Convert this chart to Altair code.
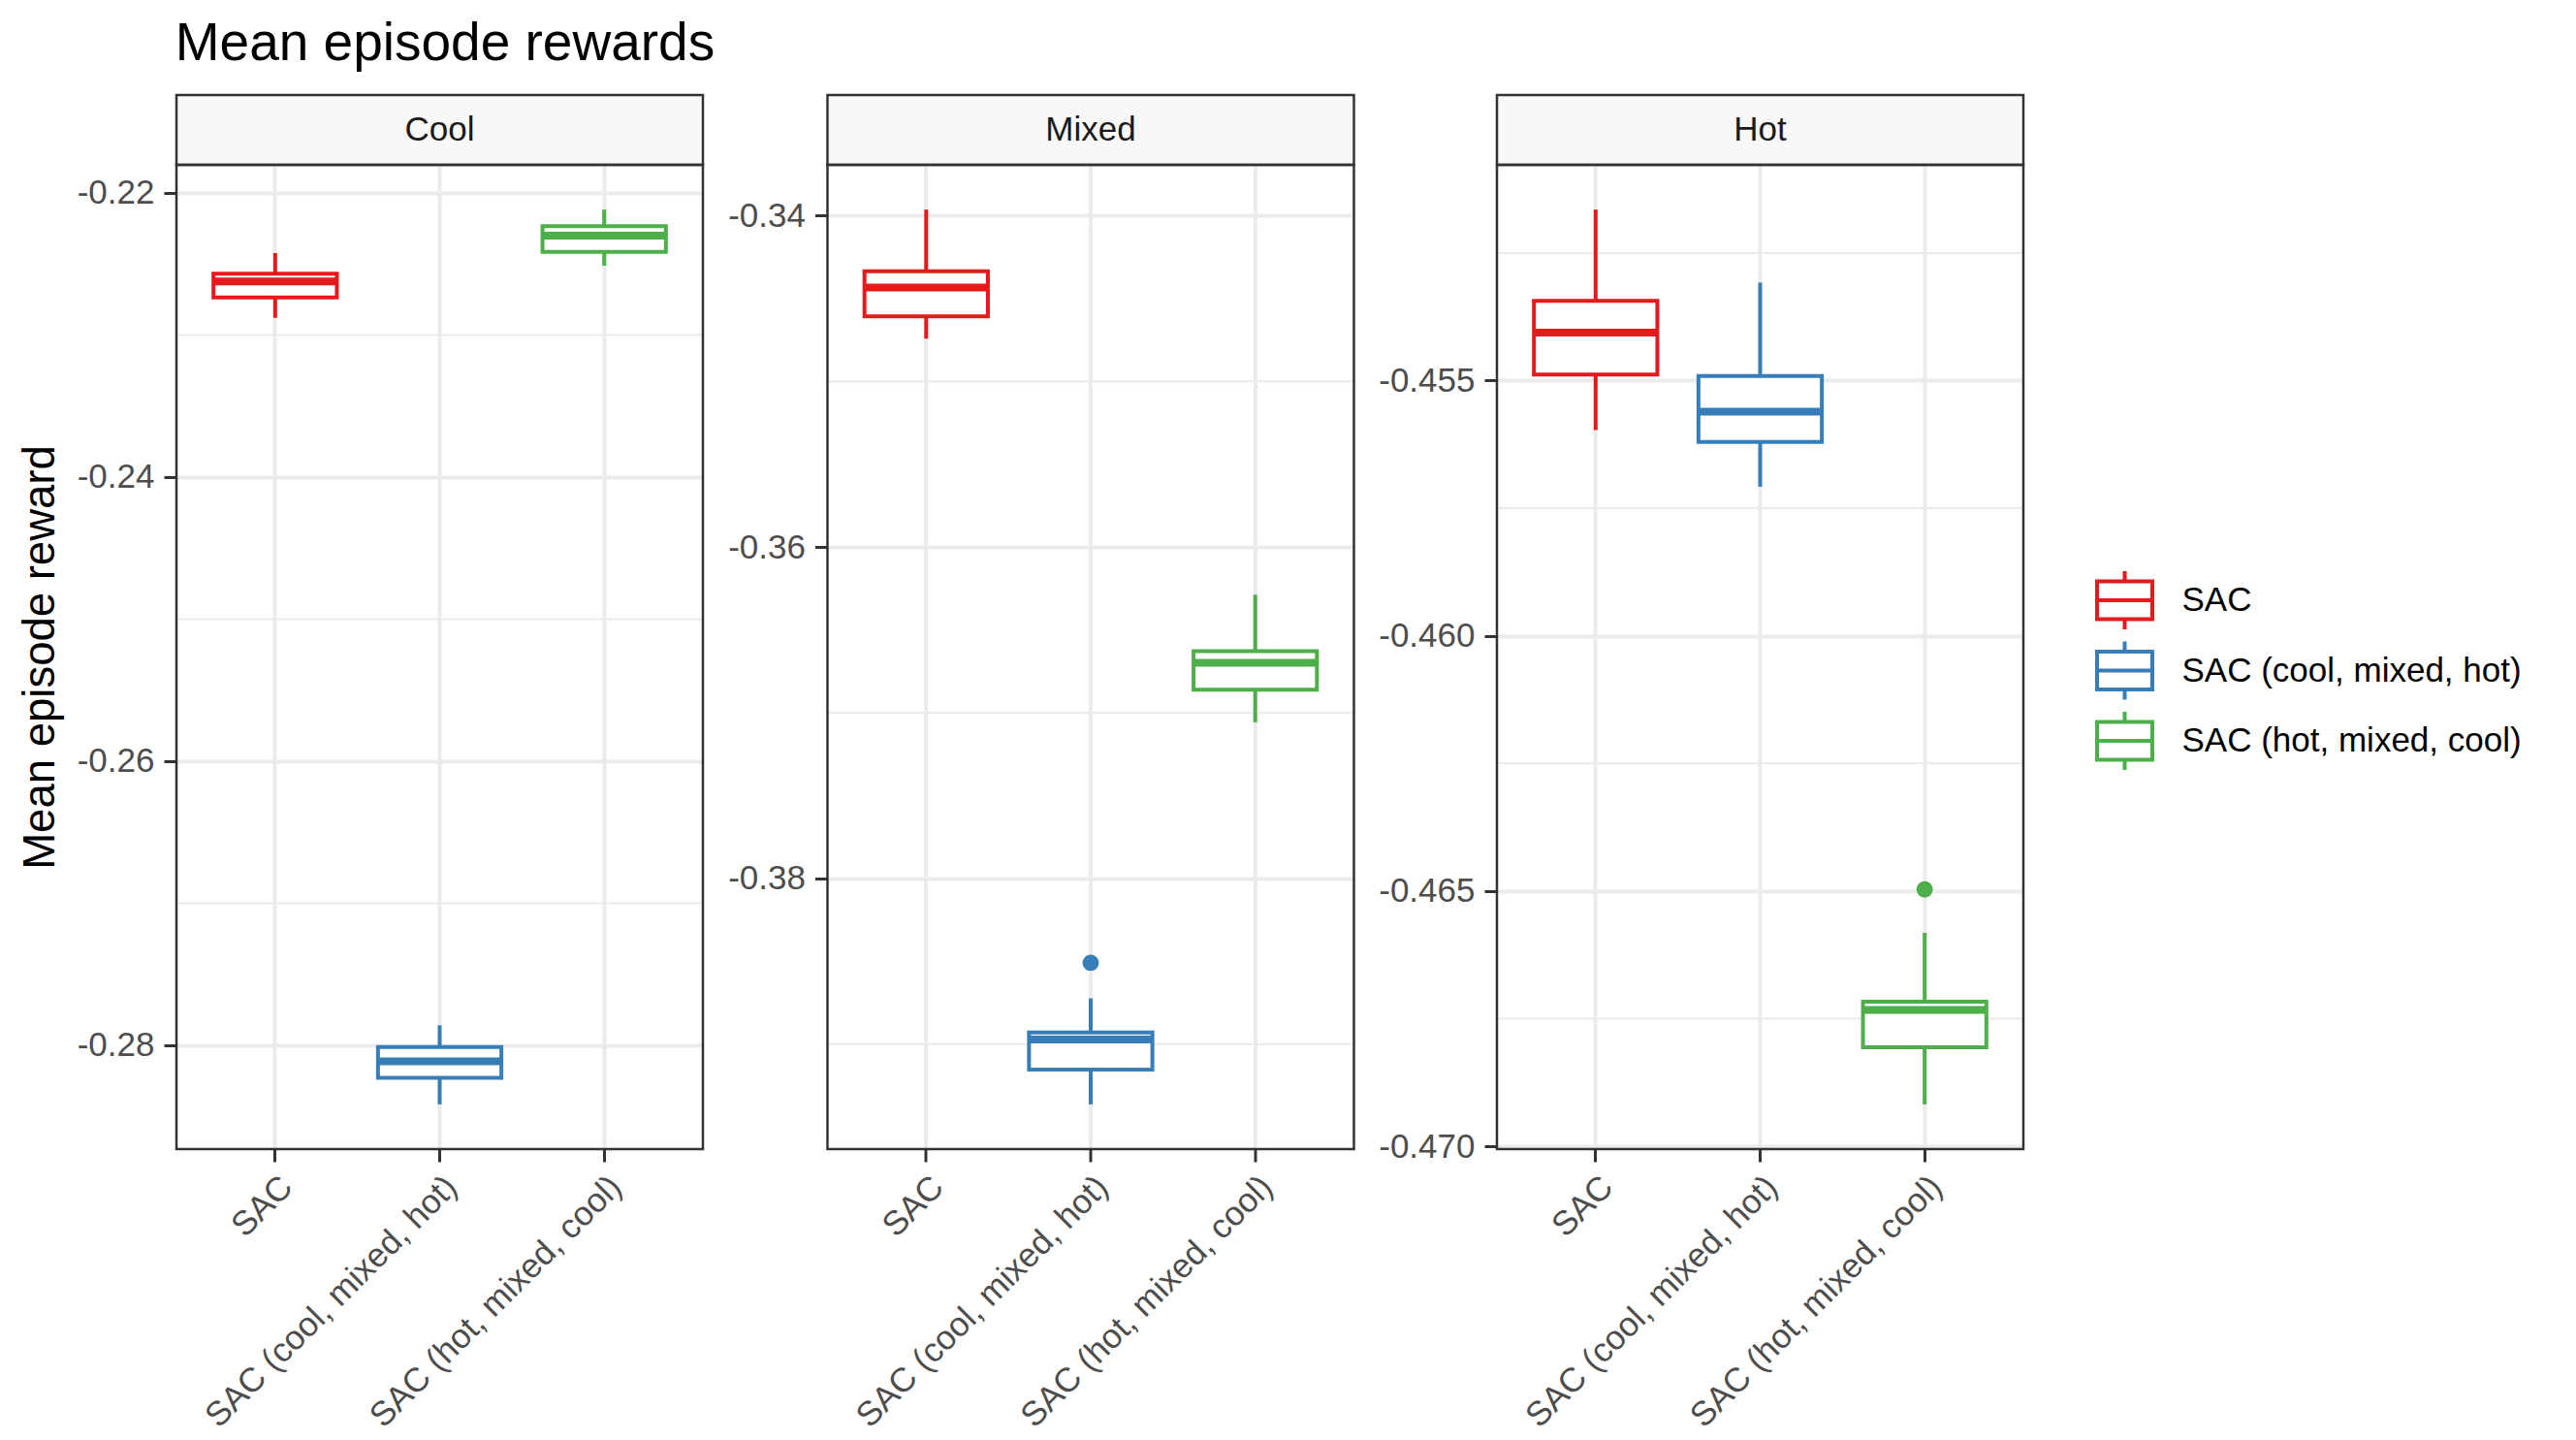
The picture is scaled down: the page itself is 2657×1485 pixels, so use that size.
import altair as alt
import pandas as pd

groups = ["SAC", "SAC (cool, mixed, hot)", "SAC (hot, mixed, cool)"]
colors = ["#E41A1C", "#377EB8", "#4DAF4A"]
panel_names = ["Cool", "Mixed", "Hot"]

cool_lower = [-0.22879, -0.28416, -0.22512]
cool_q1 = [-0.22736, -0.28230, -0.22414]
cool_median = [-0.22623, -0.28114, -0.22300]
cool_q3 = [-0.22569, -0.28012, -0.22233]
cool_upper = [-0.22423, -0.27859, -0.22117]
cool_out_groups = []
cool_out_values = []

mixed_lower = [-0.34742, -0.39363, -0.37057]
mixed_q1 = [-0.34607, -0.39153, -0.36861]
mixed_median = [-0.34434, -0.38971, -0.36698]
mixed_q3 = [-0.34336, -0.38929, -0.36628]
mixed_upper = [-0.33963, -0.38723, -0.36287]
mixed_out_groups = ["SAC (cool, mixed, hot)"]
mixed_out_values = [-0.38509]

hot_lower = [-0.45597, -0.45708, -0.46918]
hot_q1 = [-0.45488, -0.45620, -0.46806]
hot_median = [-0.45406, -0.45561, -0.46733]
hot_q3 = [-0.45344, -0.45491, -0.46717]
hot_upper = [-0.45165, -0.45308, -0.46582]
hot_out_groups = ["SAC (hot, mixed, cool)"]
hot_out_values = [-0.46497]

cool_ticks = [-0.28, -0.26, -0.24, -0.22]
cool_minor = [-0.27, -0.25, -0.23]
mixed_ticks = [-0.38, -0.36, -0.34]
mixed_minor = [-0.39, -0.37, -0.35]
hot_ticks = [-0.470, -0.465, -0.460, -0.455]
hot_minor = [-0.4675, -0.4625, -0.4575, -0.4525]

FONT = "Liberation Sans"
W, H = 543, 1015
STRIP = 72
BOX_W = 127
GRID = "#EBEBEB"
DARK = "#333333"

cscale = alt.Scale(domain=groups, range=colors)


def panel(name, lower, q1, median, q3, upper, out_g, out_v, ticks, minor, decimals, first):
    df = pd.DataFrame({"group": groups, "lower": lower, "q1": q1,
                       "median": median, "q3": q3, "upper": upper})
    vals = lower + upper + out_v
    lo, hi = min(vals), max(vals)
    pad = 0.05 * (hi - lo)
    yscale = alt.Scale(domain=[lo - pad, hi + pad], nice=False, zero=False)
    yaxis = alt.Axis(
        values=ticks,
        labelExpr=f"'-' + format(abs(datum.value), '.{decimals}f')",
        labelFontSize=35, labelColor="#4D4D4D", labelFont=FONT,
        labelPadding=10, labelFlush=False, labelOverlap=False,
        tickColor=DARK, tickWidth=3, tickSize=13,
        grid=True, gridColor=GRID, gridWidth=4,
        domain=False,
        titleFontSize=45.5, titleFontWeight="normal", titleColor="black",
        titleFont=FONT, titlePadding=14,
    )
    ytitle = "Mean episode reward" if first else None

    def Y(f):
        if ytitle:
            return alt.Y(f"{f}:Q", scale=yscale, axis=yaxis, title=ytitle)
        return alt.Y(f"{f}:Q", scale=yscale, axis=yaxis, title=None)

    xscale = alt.Scale(domain=groups, paddingInner=0, paddingOuter=0.1)
    xaxis = alt.Axis(
        labelAngle=-45, labelAlign="right", labelBaseline="top",
        labelFontSize=35, labelColor="#4D4D4D", labelFont=FONT,
        labelPadding=8, labelLimit=0, labelOverlap=False,
        tickColor=DARK, tickWidth=3, tickSize=13,
        grid=True, gridColor=GRID, gridWidth=4, domain=False,
    )
    X = alt.X("group:N", scale=xscale, axis=xaxis, title=None)

    base = alt.Chart(df)
    layers = []
    layers.append(
        alt.Chart(pd.DataFrame({"v": minor})).mark_rule(color=GRID, strokeWidth=2)
        .encode(y=Y("v"))
    )
    layers.append(
        base.mark_rule(strokeWidth=4).encode(
            x=X, y=Y("lower"), y2="q1",
            stroke=alt.Stroke("group:N", scale=cscale, legend=None))
    )
    layers.append(
        base.mark_rule(strokeWidth=4).encode(
            x=X, y=Y("q3"), y2="upper",
            stroke=alt.Stroke("group:N", scale=cscale, legend=None))
    )
    layers.append(
        base.mark_bar(fill="white", strokeWidth=4, width={"band": 0.75}).encode(
            x=X, y=Y("q1"), y2="q3",
            stroke=alt.Stroke("group:N", scale=cscale, legend=None))
    )
    layers.append(
        base.mark_tick(thickness=8, size=BOX_W, opacity=1).encode(
            x=X, y=Y("median"),
            fill=alt.Fill("group:N", scale=cscale, legend=None))
    )
    if out_v:
        layers.append(
            alt.Chart(pd.DataFrame({"group": out_g, "v": out_v}))
            .mark_circle(size=283, opacity=1)
            .encode(x=X, y=Y("v"), fill=alt.Fill("group:N", scale=cscale, legend=None))
        )
    pdf = pd.DataFrame({"panel": [name]})
    layers.append(
        alt.Chart(pdf).mark_rect(fill="#F8F8F8", stroke=DARK, strokeWidth=2.5).encode(
            x=alt.value(0), x2=alt.value(W), y=alt.value(-STRIP), y2=alt.value(0))
    )
    layers.append(
        alt.Chart(pdf).mark_text(fontSize=35, color="#1A1A1A", font=FONT, baseline="middle").encode(
            x=alt.value(W / 2), y=alt.value(-STRIP / 2), text="panel:N")
    )
    layers.append(
        alt.Chart(pdf).mark_rect(filled=False, stroke=DARK, strokeWidth=2.5).encode(
            x=alt.value(0), x2=alt.value(W), y=alt.value(0), y2=alt.value(H))
    )
    return alt.layer(*layers).properties(width=W, height=H)


p1 = panel("Cool", cool_lower, cool_q1, cool_median, cool_q3, cool_upper,
           cool_out_groups, cool_out_values, cool_ticks, cool_minor, 2, True)
p2 = panel("Mixed", mixed_lower, mixed_q1, mixed_median, mixed_q3, mixed_upper,
           mixed_out_groups, mixed_out_values, mixed_ticks, mixed_minor, 2, False)
p3 = panel("Hot", hot_lower, hot_q1, hot_median, hot_q3, hot_upper,
           hot_out_groups, hot_out_values, hot_ticks, hot_minor, 3, False)

# legend drawn as its own small view, one boxplot glyph per group
leg_df = pd.DataFrame({"group": groups})
LX = 79        # glyph centre
LHW = 28.5     # glyph half width
LBH = 19.5     # glyph box half height
LWH = 30       # glyph whisker half height
ly = alt.Y("group:N",
           scale=alt.Scale(type="point", domain=groups, range=[449, 594], padding=0),
           axis=None)
ly2 = alt.Y2("group:N")
lstroke = alt.Stroke("group:N", scale=cscale, legend=None)
leg_base = alt.Chart(leg_df)
legend_chart = alt.layer(
    leg_base.mark_rule(strokeWidth=4, yOffset=-LWH, y2Offset=LWH).encode(
        x=alt.value(LX), y=ly, y2=ly2, stroke=lstroke),
    leg_base.mark_rect(fill="white", strokeWidth=4, yOffset=-LBH, y2Offset=LBH).encode(
        x=alt.value(LX - LHW), x2=alt.value(LX + LHW), y=ly, y2=ly2, stroke=lstroke),
    leg_base.mark_rule(strokeWidth=4).encode(
        x=alt.value(LX - LHW), x2=alt.value(LX + LHW), y=ly, stroke=lstroke),
    leg_base.mark_text(align="left", baseline="middle", fontSize=35, color="black", font=FONT).encode(
        x=alt.value(138), y=ly, text="group:N"),
).properties(width=500, height=720)

chart = (
    alt.hconcat(p1, p2, p3, legend_chart, spacing=22.5)
    .resolve_scale(x="independent", y="independent")
    .properties(
        title=alt.TitleParams(
            text="Mean episode rewards", anchor="start", fontSize=55,
            fontWeight="normal", color="black", font=FONT, offset=22, dx=162),
        padding={"left": 10, "top": 10, "right": 5, "bottom": 5},
    )
    .configure(font=FONT)
    .configure_view(stroke="transparent")
)

chart.save("out.html", embed_options={"renderer": "svg", "actions": False})
